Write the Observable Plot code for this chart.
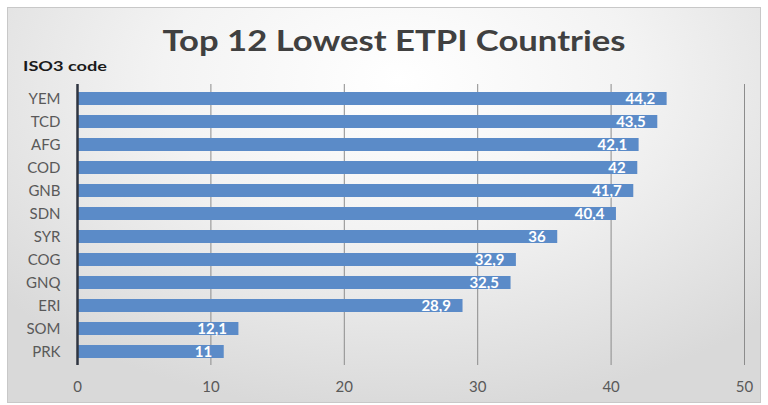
<!DOCTYPE html>
<html>
<head>
<meta charset="utf-8">
<script src="https://cdn.jsdelivr.net/npm/d3@7"></script>
<script src="https://cdn.jsdelivr.net/npm/@observablehq/plot@0.6"></script>
<style>
  html, body { margin: 0; padding: 0; background: #ffffff; }
  #wrap { position: relative; width: 768px; height: 405px; overflow: hidden; }
  #frame { position: absolute; left: 7px; top: 7px; width: 754px; height: 396px;
    border: 1px solid #c8c8c8; box-sizing: border-box;
    background: radial-gradient(ellipse 70% 85% at 52% 18%, #ffffff 0%, #f3f3f3 45%, #d9d9d9 100%); }
  #chart { position: absolute; left: 0; top: 0; }
</style>
</head>
<body>
<div id="wrap"><div id="frame"></div><div id="chart"></div></div>
<script>
const codes = ["YEM", "TCD", "AFG", "COD", "GNB", "SDN", "SYR", "COG", "GNQ", "ERI", "SOM", "PRK"];
const values = [44.2, 43.5, 42.1, 42, 41.7, 40.4, 36, 32.9, 32.5, 28.9, 12.1, 11];
const xTicks = [0, 10, 20, 30, 40, 50];
const titleText = "Top 12 Lowest ETPI Countries";
const yTitle = "ISO3 code";

const data = codes.map((c, i) => ({code: c, value: values[i]}));
const fmt = v => String(v).replace(".", ",");
const font = "Lato, 'Open Sans', sans-serif";

const chart = Plot.plot({
  width: 768,
  height: 405,
  marginLeft: 77,
  marginRight: 24,
  marginTop: 84,
  marginBottom: 40,
  style: {background: "transparent", fontFamily: font, fontSize: "15px", color: "#595959", overflow: "visible"},
  x: {domain: [0, 50], ticks: xTicks, label: null, tickSize: 0, tickPadding: 16},
  y: {domain: codes, label: null, tickSize: 0, tickPadding: 17, paddingInner: 0.44, paddingOuter: 0.22},
  marks: [
    Plot.ruleX(xTicks.filter(t => t > 0), {stroke: "#8c8c8c", strokeWidth: 1}),
    Plot.barX(data, {x: "value", y: "code", fill: "#5b8bc8"}),
    Plot.ruleX([0], {stroke: "#2f3540", strokeWidth: 2.5}),
    Plot.text(data, {x: "value", y: "code", text: d => fmt(d.value), textAnchor: "end", dx: -12,
      fill: "#ffffff", fontWeight: "bold", fontSize: 15})
  ]
});

const svg = d3.select(chart);
svg.append("text")
  .attr("x", 394).attr("y", 51)
  .attr("text-anchor", "middle")
  .attr("font-family", font)
  .attr("font-weight", "bold")
  .attr("font-size", 29)
  .attr("fill", "#404040")
  .attr("textLength", 463)
  .attr("lengthAdjust", "spacingAndGlyphs")
  .text(titleText);
svg.append("text")
  .attr("x", 23).attr("y", 71)
  .attr("text-anchor", "start")
  .attr("font-family", font)
  .attr("font-weight", "bold")
  .attr("font-size", 14)
  .attr("fill", "#1a1a1a")
  .attr("textLength", 84)
  .attr("lengthAdjust", "spacingAndGlyphs")
  .text(yTitle);

document.getElementById("chart").appendChild(chart);
</script>
</body>
</html>
